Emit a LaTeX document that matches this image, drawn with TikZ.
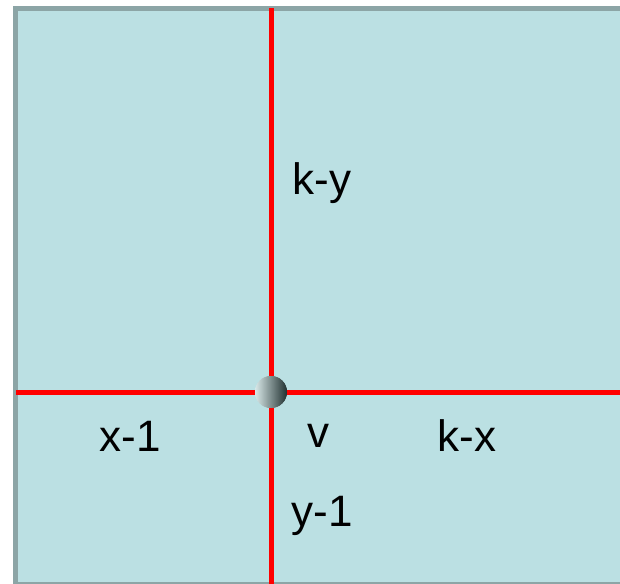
\documentclass[tikz,border=0pt]{standalone}
\usepackage{fontspec}
\setmainfont{Liberation Sans}
\definecolor{boxfill}{HTML}{BBE0E3}
\definecolor{boxedge}{HTML}{8CA5A6}
\definecolor{edgered}{HTML}{FF0000}
\definecolor{balllight}{HTML}{D8E8E8}
\definecolor{balldark}{HTML}{203030}
\begin{document}
\begin{tikzpicture}[x=1pt,y=-1pt,
  lbl/.style={font=\fontsize{44}{50}\selectfont, text=black, inner sep=0pt},
  redline/.style={draw=edgered, line width=5pt},
  ball/.style={circle, minimum size=32pt, inner sep=0pt, shading=axis, left color=balllight, right color=balldark}]
\useasboundingbox (0,0) rectangle (620,583);
\begin{scope}
\clip (0,0) rectangle (620,583);
\draw[fill=boxfill, draw=boxedge, line width=5pt] (15.5,8.5) rectangle (640,584.5);
\coordinate (top) at (271,8);
\coordinate (bot) at (271,590);
\coordinate (lft) at (16,392);
\coordinate (rgt) at (630,392);
\node[ball] (v0) at (271,392) {};
\draw[redline] (v0.north) -- (top);
\draw[redline] (v0.south) -- (bot);
\draw[redline] (v0.west) -- (lft);
\draw[redline] (v0.east) -- (rgt);
\node[ball] at (271,392) {};
\end{scope}
\node[lbl] (ky) at (322,183) {k-y};
\node[lbl] (x1) at (130,436) {x-1};
\node[lbl] (v) at (318,436) {v};
\node[lbl] (kx) at (467,436) {k-x};
\node[lbl] (y1) at (322,516) {y-1};
\end{tikzpicture}
\end{document}
